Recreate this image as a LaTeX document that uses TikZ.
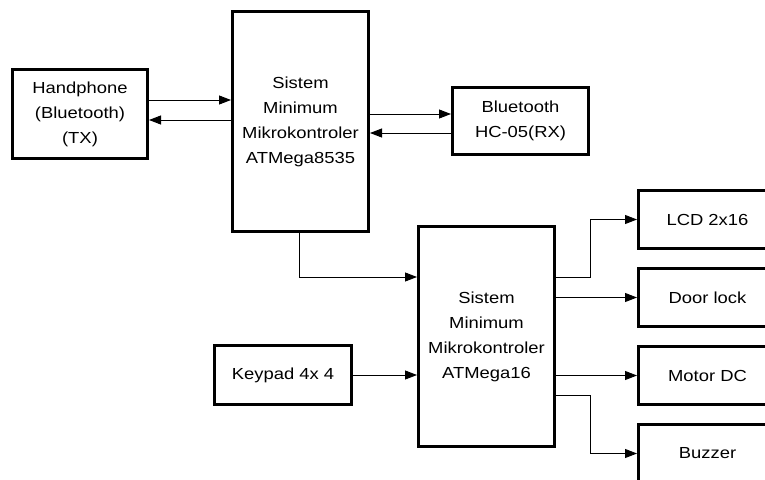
\documentclass[tikz,border=0pt]{standalone}
\usepackage{fontspec}
\setmainfont{Liberation Sans}[FakeStretch=1.15]
\usetikzlibrary{arrows.meta,positioning}

\begin{document}
\begin{tikzpicture}[
  x=1pt, y=-1pt,
  every node/.style={font=\fontsize{16}{25}\selectfont, align=center},
  box/.style={draw, line width=3pt, fill=white, anchor=north west, inner sep=0pt},
  mcu/.style={box, minimum width=136pt, minimum height=220pt},
  outbox/.style={box, minimum width=138pt, minimum height=58pt},
  arrow/.style={-{Triangle[length=12pt,width=9pt]}, line width=0.9pt}
]
  \useasboundingbox (0,0) rectangle (765,479);
  \clip (0,0) rectangle (765,479);

  % Nodes
  \node (hp) [box, minimum width=135pt, minimum height=89pt] at (11,68) {Handphone\\(Bluetooth)\\(TX)};
  \node (mcu1) [mcu] at (231,10) {Sistem\\Minimum\\Mikrokontroler\\ATMega8535};
  \node (bt) [box, minimum width=136pt, minimum height=67pt] at (451,86) {Bluetooth\\HC-05(RX)};
  \node (mcu2) [mcu] at (417,225) {Sistem\\Minimum\\Mikrokontroler\\ATMega16};
  \node (keypad) [box, minimum width=137pt, minimum height=59pt] at (213,344) {Keypad 4x 4};

  \node (lcd) [outbox] at (637,189) {LCD 2x16};
  \node (door) [outbox] at (637,267) {Door lock};
  \node (motor) [outbox] at (637,345) {Motor DC};
  \node (buzzer) [outbox] at (637,423) {Buzzer};

  % Paths
  \draw [arrow] (hp.east |- 0,100) -- (mcu1.west |- 0,100);
  \draw [arrow] (mcu1.west |- 0,120) -- (hp.east |- 0,120);
  \draw [arrow] (mcu1.east |- 0,114) -- (bt.west |- 0,114);
  \draw [arrow] (bt.west |- 0,133) -- (mcu1.east |- 0,133);
  \draw [arrow] (mcu1.south -| 299,0) |- (mcu2.west |- 0,277);
  \draw [arrow] (keypad.east) -- (keypad.east -| mcu2.west);
  \draw [arrow] (mcu2.east |- 0,277) -- ++(34,0) |- (lcd.west);
  \draw [arrow] (mcu2.east |- door) -- (door.west);
  \draw [arrow] (mcu2.east |- motor) -- (motor.west);
  \draw [arrow] (mcu2.east |- 0,395) -- ++(34,0) |- (buzzer.west);
\end{tikzpicture}
\end{document}
